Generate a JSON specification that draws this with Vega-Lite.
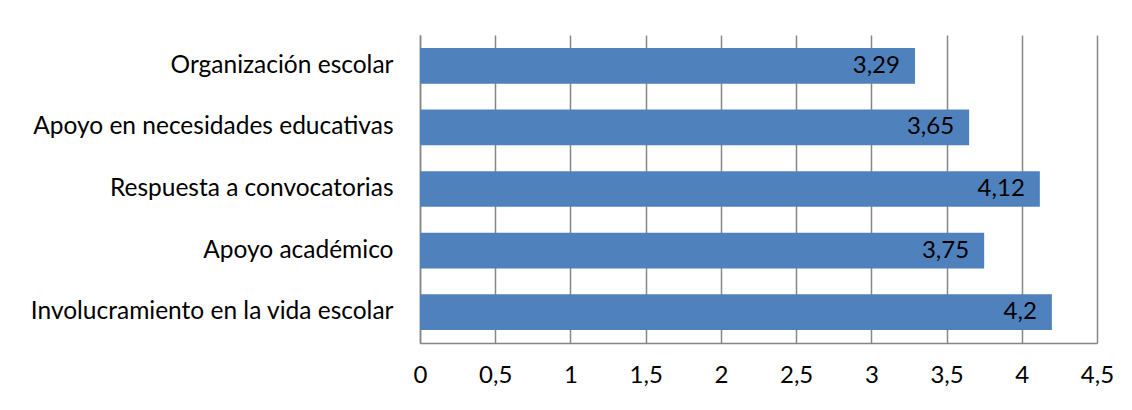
{
  "$schema": "https://vega.github.io/schema/vega-lite/v6.json",
  "width": 677,
  "height": 308,
  "padding": {"left": 6, "top": 35, "right": 20, "bottom": 5},
  "background": "white",
  "config": {
    "font": "Lato",
    "view": {"stroke": null},
    "locale": {"number": {"decimal": ",", "thousands": ".", "grouping": [3], "currency": ["", " €"]}}
  },
  "data": {
    "values": [
      {"categoria": "Organización escolar", "valor": 3.29},
      {"categoria": "Apoyo en necesidades educativas", "valor": 3.65},
      {"categoria": "Respuesta a convocatorias", "valor": 4.12},
      {"categoria": "Apoyo académico", "valor": 3.75},
      {"categoria": "Involucramiento en la vida escolar", "valor": 4.2}
    ]
  },
  "encoding": {
    "y": {
      "field": "categoria",
      "type": "nominal",
      "sort": null,
      "scale": {"paddingInner": 0.42, "paddingOuter": 0.21},
      "axis": {
        "title": null,
        "domain": true,
        "domainColor": "#868686",
        "domainWidth": 1.5,
        "ticks": false,
        "grid": false,
        "labelPadding": 27,
        "labelFontSize": 24.5,
        "labelColor": "#000000",
        "labelLimit": 0,
        "minExtent": 414,
        "maxExtent": 414
      }
    }
  },
  "layer": [
    {
      "mark": {"type": "bar", "color": "#4F81BD"},
      "encoding": {
        "x": {
          "field": "valor",
          "type": "quantitative",
          "scale": {"domain": [0, 4.5], "nice": false},
          "axis": {
            "title": null,
            "values": [0, 0.5, 1, 1.5, 2, 2.5, 3, 3.5, 4, 4.5],
            "format": "~f",
            "grid": true,
            "gridColor": "#868686",
            "gridWidth": 1.5,
            "domain": true,
            "domainColor": "#868686",
            "domainWidth": 1.5,
            "ticks": false,
            "labelFlush": false,
            "labelPadding": 20,
            "labelFontSize": 24,
            "labelColor": "#000000"
          }
        }
      }
    },
    {
      "mark": {"type": "text", "align": "right", "baseline": "middle", "dx": -15, "fontSize": 24, "color": "#000000"},
      "encoding": {
        "x": {"field": "valor", "type": "quantitative"},
        "text": {"field": "valor", "type": "quantitative", "format": "~f"}
      }
    }
  ]
}
